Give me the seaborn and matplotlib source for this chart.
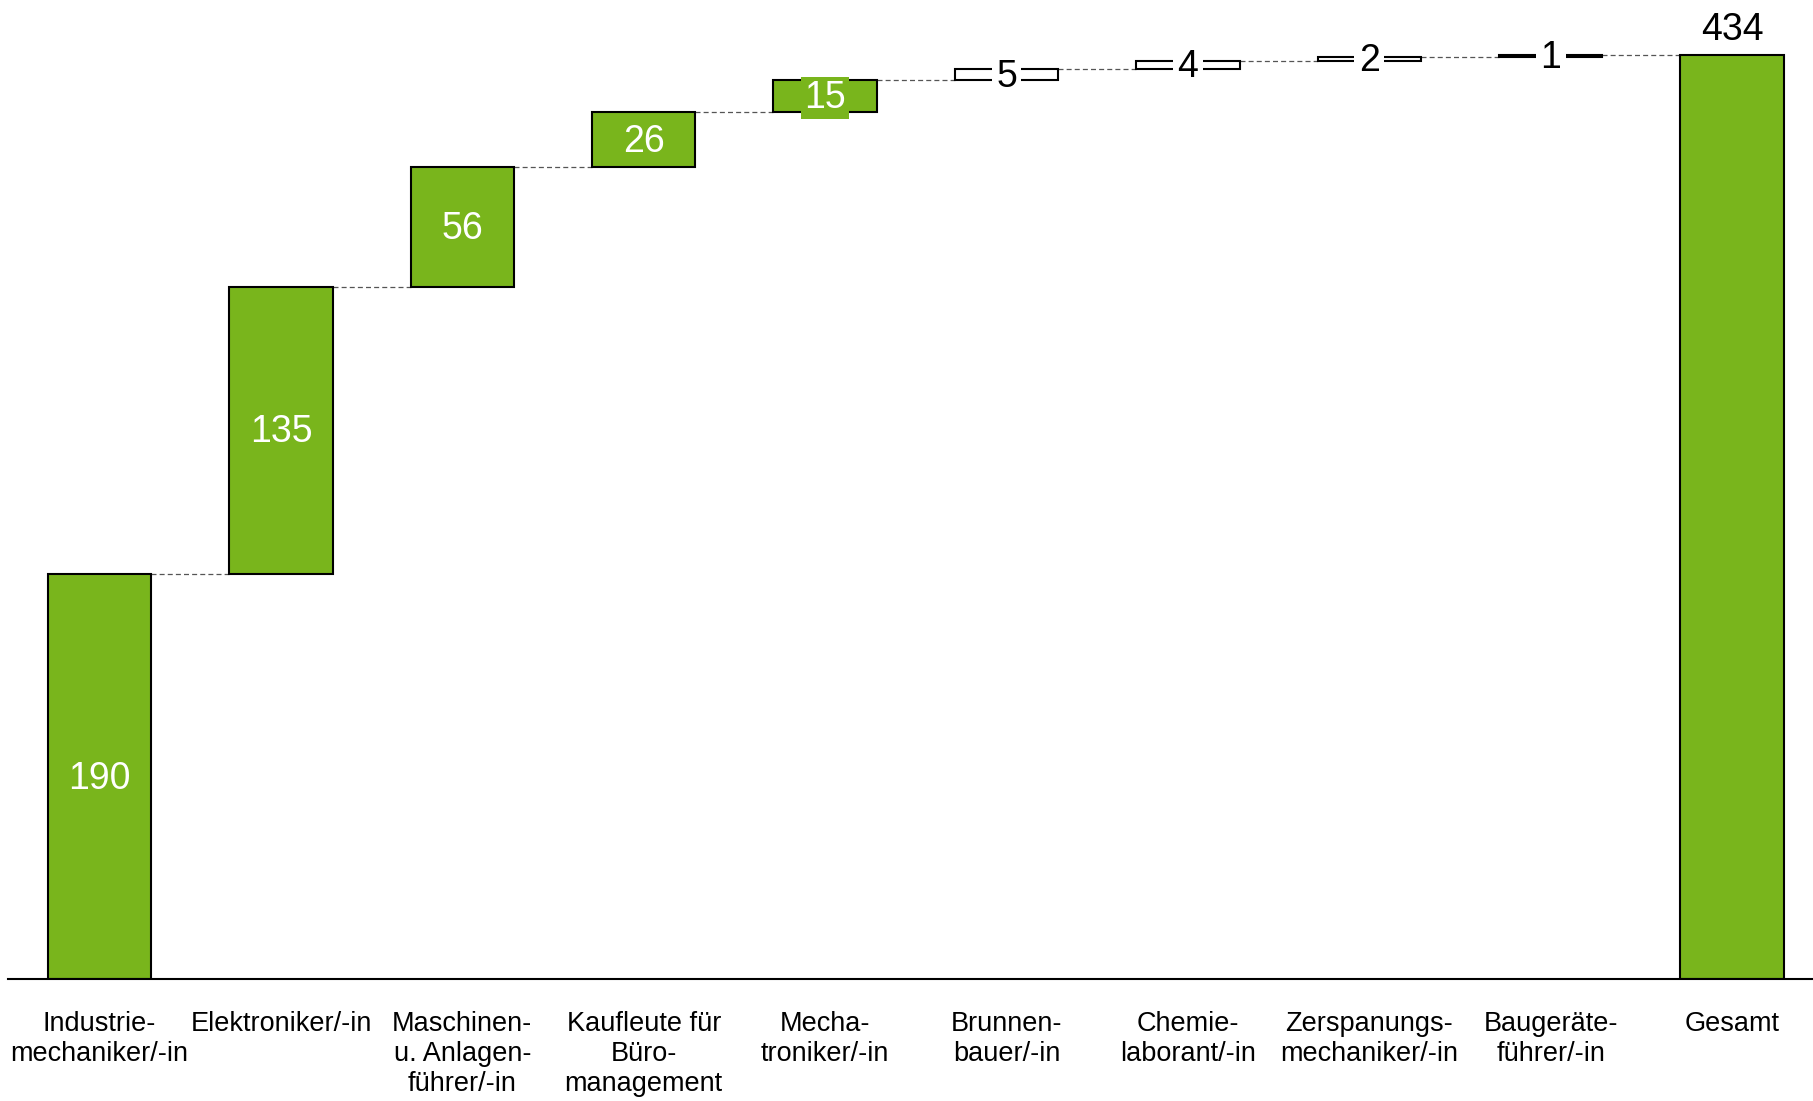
import matplotlib
matplotlib.use("Agg")
import matplotlib.pyplot as plt
import seaborn as sns
import numpy as np
import pandas as pd

categories = ["Industrie-\nmechaniker/-in", "Elektroniker/-in", "Maschinen-\nu. Anlagen-\nführer/-in",
              "Kaufleute für\nBüro-\nmanagement", "Mecha-\ntroniker/-in", "Brunnen-\nbauer/-in",
              "Chemie-\nlaborant/-in", "Zerspanungs-\nmechaniker/-in", "Baugeräte-\nführer/-in", "Gesamt"]
values = [190, 135, 56, 26, 15, 5, 4, 2, 1, 434]
is_total = [False] * 9 + [True]

sns.set_theme(style="white")
plt.rcParams['font.family'] = ['Liberation Sans', 'DejaVu Sans']
plt.rcParams['text.color'] = 'black'
plt.rcParams['xtick.color'] = 'black'

GREEN = "#79B51C"
bottoms = []
cum = 0
for v, t in zip(values, is_total):
    if t:
        bottoms.append(0)
    else:
        bottoms.append(cum)
        cum += v
df = pd.DataFrame({"cat": categories, "val": values, "bottom": bottoms})
tops = [b + v for b, v in zip(bottoms, values)]

fig = plt.figure(figsize=(18.13, 11.01), dpi=100)
ax = fig.add_axes([0.0044, 0.111, 0.9956, 0.889])
W = 0.57
sns.barplot(data=df, x="cat", y="val", bottom=df["bottom"].values, color=GREEN,
            width=W, edgecolor="black", linewidth=1.5, saturation=1, ax=ax, errorbar=None)

small = [v < 10 and not t for v, t in zip(values, is_total)]
for p, s in zip(ax.patches, small):
    if s:
        p.set_facecolor("white")

# connectors
for i in range(len(values) - 1):
    ax.plot([i + W / 2, i + 1 - W / 2], [tops[i], tops[i]], color="#555555",
            lw=0.9, dashes=(4, 2.5), zorder=0.5)

# labels
for i, (v, b, t, s) in enumerate(zip(values, bottoms, is_total, small)):
    if t:
        ax.annotate(str(v), (i, b + v), xytext=(0, 5), textcoords="offset points",
                    ha="center", va="bottom", fontsize=27, color="black")
    elif s:
        ax.annotate(str(v), (i, b + v / 2), xytext=(0, -1.5), textcoords="offset points",
                    ha="center", va="center", fontsize=27, color="black",
                    bbox=dict(boxstyle="square,pad=0.12", fc="white", ec="none"), zorder=5)
    else:
        ax.annotate(str(v), (i, b + v / 2), xytext=(0, -1.5), textcoords="offset points",
                    ha="center", va="center", fontsize=27, color="white",
                    bbox=dict(boxstyle="square,pad=0.08", fc=GREEN, ec="none"), zorder=5)

ax.set_xlim(-0.505, 9.446)
ax.set_ylim(0, 459.6)
ax.set_xlabel("")
ax.set_ylabel("")
ax.set_yticks([])
for sp in ["top", "right", "left"]:
    ax.spines[sp].set_visible(False)
ax.spines["bottom"].set_color("black")
ax.spines["bottom"].set_linewidth(1.5)
ax.tick_params(axis="x", length=0, pad=23, labelsize=19.5, labelcolor="black")
for lab in ax.get_xticklabels():
    lab.set_multialignment("center")
    lab.set_linespacing(1.2)

fig.savefig("out.png", dpi=100)
